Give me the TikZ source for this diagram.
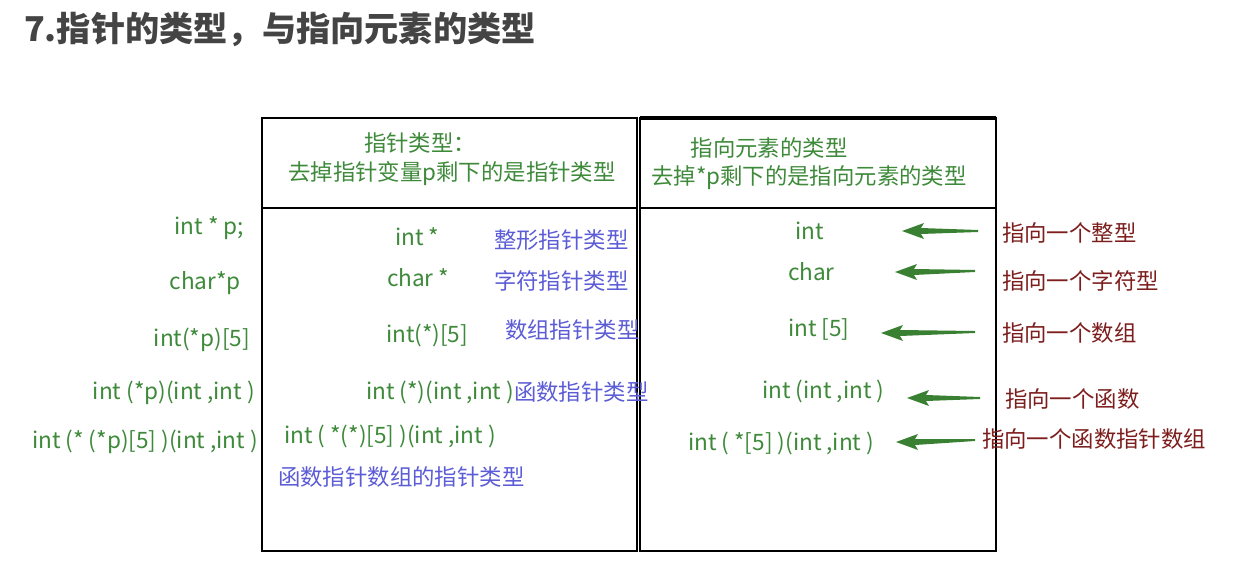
\documentclass[tikz,border=0pt]{standalone}
\usepackage{fontspec}
\setmainfont{Noto Sans CJK SC}
\usetikzlibrary{calc}
\definecolor{tgreen}{RGB}{62,138,58}
\definecolor{tblue}{RGB}{92,92,214}
\definecolor{tred}{RGB}{125,30,30}
\definecolor{agreen}{RGB}{58,128,50}
\definecolor{ttitle}{RGB}{68,68,68}
\newcommand{\taperarrow}[2]{%
  \fill[agreen] (#1) -- ++(22,-8) -- ++(-3,5) -- ($(#2)+(0,-1)$) -- ($(#2)+(0,1)$) -- ($(#1)+(19,3)$) -- ($(#1)+(22,8)$) -- cycle;}
\begin{document}
\begin{tikzpicture}[x=1pt,y=-1pt,
  every node/.style={inner sep=0pt,outer sep=0pt},
  code/.style={text=tgreen,font=\fontsize{22.6}{26}\selectfont},
  head/.style={text=tgreen,font=\fontsize{22.4}{26}\selectfont},
  note/.style={text=tblue,font=\fontsize{22.4}{26}\selectfont},
  target/.style={text=tred,font=\fontsize{22.4}{26}\selectfont},
  frame/.style={draw=black,line width=2.9pt}]
\useasboundingbox[fill=white] (0,0) rectangle (1233,578);
% title
\node[anchor=west,text=ttitle,font=\fontsize{34.2}{38}\selectfont\bfseries] (title) at (24,30) {7.指针的类型，与指向元素的类型};
% frames
\coordinate (L1) at (262,118); \coordinate (L2) at (637,551);
\coordinate (R1) at (640,118); \coordinate (R2) at (996,551);
\coordinate (HL) at (262,208); \coordinate (HM) at (637,208);
\coordinate (HN) at (640,208); \coordinate (HR) at (996,208);
\draw[frame] (L1) rectangle (L2);
\draw[frame] (R1) rectangle (R2);
\draw[frame,line width=3.6pt] (R1) -- (R1 -| R2);
\draw[frame] (HL) -- (HM);
\draw[frame] (HN) -- (HR);
% headers
\node[head] (h1a) at (420,143) {指针类型：};
\node[head] (h1b) at (452,174) {去掉指针变量p剩下的是指针类型};
\node[head] (h2a) at (769,148) {指向元素的类型};
\node[head] (h2b) at (809,178) {去掉*p剩下的是指向元素的类型};
% left column
\node[code,anchor=east] (d1) at (244,228) {int * p;};
\node[code,anchor=east] (d2) at (241,283) {char*p};
\node[code,anchor=east] (d3) at (250,340) {int(*p)[5]};
\node[code,anchor=east] (d4) at (255,393) {int (*p)(int ,int )};
\node[code,anchor=east] (d5) at (258,442) {int (* (*p)[5] )(int ,int )};
% middle column
\node[code,anchor=west] (p1) at (395,237) {int *};
\node[note,anchor=west] (n1) at (494,240) {整形指针类型};
\node[code,anchor=west] (p2) at (387,278) {char *};
\node[note,anchor=west] (n2) at (494,281) {字符指针类型};
\node[code,anchor=west] (p3) at (386,335) {int(*)[5]};
\node[note,anchor=west] (n3) at (505,330) {数组指针类型};
\node[code,anchor=west] (p4) at (366,392) {int (*)(int ,int )};
\node[note,anchor=west] (n4) at (p4.east) {函数指针类型};
\node[code,anchor=west] (p5) at (284,436) {int ( *(*)[5] )(int ,int )};
\node[note,anchor=west] (n5) at (278,477) {函数指针数组的指针类型};
% right column
\node[code,anchor=west] (e1) at (795,231) {int};
\node[code,anchor=west] (e2) at (788,272) {char};
\node[code,anchor=west] (e3) at (788,329) {int [5]};
\node[code,anchor=west] (e4) at (762,391) {int (int ,int )};
\node[code,anchor=west] (e5) at (688,443) {int ( *[5] )(int ,int )};
% targets
\node[target,anchor=west] (t1) at (1002,233) {指向一个整型};
\node[target,anchor=west] (t2) at (1002,281) {指向一个字符型};
\node[target,anchor=west] (t3) at (1002,333) {指向一个数组};
\node[target,anchor=west] (t4) at (1005,399) {指向一个函数};
\node[target,anchor=west] (t5) at (982,439) {指向一个函数指针数组};
% arrows
\coordinate (a1h) at (902,231); \coordinate (a1t) at (978,231);
\coordinate (a2h) at (895,272); \coordinate (a2t) at (975,271);
\coordinate (a3h) at (881,333); \coordinate (a3t) at (975,332);
\coordinate (a4h) at (907,398); \coordinate (a4t) at (980,398);
\coordinate (a5h) at (896,442); \coordinate (a5t) at (975,440);
\taperarrow{a1h}{a1t}
\taperarrow{a2h}{a2t}
\taperarrow{a3h}{a3t}
\taperarrow{a4h}{a4t}
\taperarrow{a5h}{a5t}
\end{tikzpicture}
\end{document}
